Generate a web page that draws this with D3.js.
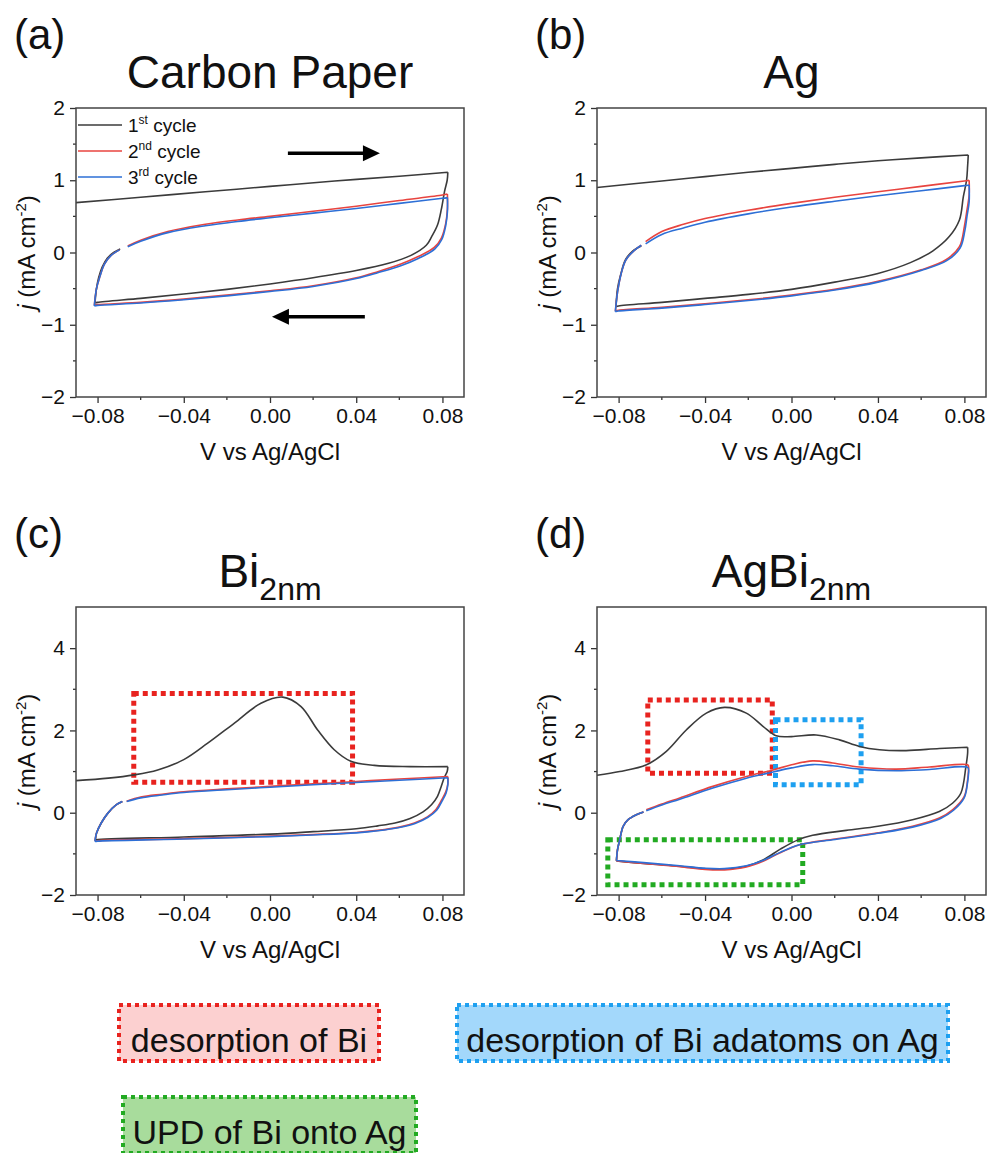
<!DOCTYPE html>
<html><head><meta charset="utf-8">
<script src="https://cdn.jsdelivr.net/npm/d3@7"></script>
<style>
body{margin:0;background:#fff}
svg text{font-family:"Liberation Sans",Arial,Helvetica,sans-serif;fill:#111}
</style>
</head><body><svg id="fig" width="987" height="1153"></svg>
<script>
// ---------------- DATA ----------------
const cycleLabels = [["1","st"," cycle"],["2","nd"," cycle"],["3","rd"," cycle"]];
const cycleColors = ["#3b3b3b","#e8443f","#2d6fd6"];
const xTickVals = [-0.08,-0.04,0.00,0.04,0.08];
const xMinorVals = [-0.06,-0.02,0.02,0.06];
const yTicksSmall = [-2,-1,0,1,2];
const yMinorSmall = [-1.5,-0.5,0.5,1.5];
const yTicksLarge = [-2,0,2,4];
const yMinorLarge = [-1,1,3];

// Panel (a) Carbon Paper  [V, j]
const cp1 = [[-0.09,0.69],[-0.06,0.765],[-0.03,0.84],[0,0.915],[0.03,0.99],[0.06,1.055],[0.0825,1.11],
 [0.0822,1.0],[0.081,0.85],[0.0795,0.6],[0.0777,0.38],[0.075,0.22],[0.0725,0.10],[0.0654,-0.04],[0.055,-0.15],[0.04,-0.25],[0.02,-0.35],[0,-0.435],[-0.02,-0.51],[-0.04,-0.574],[-0.06,-0.635],[-0.08,-0.69],[-0.0812,-0.70],
 [-0.0805,-0.5],[-0.0795,-0.35],[-0.0778,-0.2],[-0.0755,-0.08],[-0.0725,0.0],[-0.0695,0.05]];
const cp2 = [[-0.066,0.09],[-0.06,0.17],[-0.0474,0.29],[-0.03,0.39],[-0.015,0.45],[0,0.5],[0.02,0.57],[0.04,0.64],[0.06,0.72],[0.08,0.795],[0.0823,0.81],
 [0.0823,0.6],[0.0815,0.4],[0.0795,0.2],[0.0762,0.07],[0.0685,-0.06],[0.0607,-0.16],[0.05,-0.265],[0.04,-0.35],[0.02,-0.46],[0,-0.53],[-0.02,-0.59],[-0.04,-0.645],[-0.06,-0.69],[-0.08,-0.722],[-0.0815,-0.73],
 [-0.0805,-0.5],[-0.079,-0.34],[-0.0768,-0.16],[-0.0737,-0.04],[-0.0698,0.037]];
const cp3 = [[-0.066,0.08],[-0.06,0.155],[-0.0474,0.275],[-0.03,0.37],[-0.015,0.43],[0,0.48],[0.02,0.545],[0.04,0.61],[0.06,0.68],[0.08,0.75],[0.0823,0.76],
 [0.0823,0.56],[0.0815,0.37],[0.0797,0.18],[0.0765,0.05],[0.069,-0.08],[0.061,-0.18],[0.05,-0.28],[0.04,-0.36],[0.02,-0.47],[0,-0.54],[-0.02,-0.60],[-0.04,-0.655],[-0.06,-0.70],[-0.08,-0.732],[-0.0815,-0.74],
 [-0.0805,-0.5],[-0.079,-0.34],[-0.0768,-0.16],[-0.0737,-0.04],[-0.0698,0.037]];

// Panel (b) Ag
const ag1 = [[-0.09,0.90],[-0.06,0.99],[-0.04,1.05],[-0.02,1.11],[0,1.165],[0.02,1.22],[0.04,1.27],[0.06,1.31],[0.0818,1.35],
 [0.0815,1.2],[0.081,1.0],[0.0795,0.77],[0.0777,0.45],[0.073,0.22],[0.0653,0.02],[0.055,-0.14],[0.04,-0.29],[0.02,-0.41],[0,-0.51],[-0.02,-0.58],[-0.04,-0.635],[-0.06,-0.69],[-0.08,-0.74],[-0.0812,-0.75],
 [-0.0805,-0.5],[-0.079,-0.3],[-0.0768,-0.1],[-0.0735,0.02],[-0.0695,0.09]];
const ag2 = [[-0.0675,0.15],[-0.06,0.29],[-0.05,0.39],[-0.04,0.47],[-0.02,0.585],[0,0.68],[0.02,0.765],[0.04,0.84],[0.06,0.915],[0.08,0.99],[0.0822,1.0],
 [0.0822,0.8],[0.081,0.55],[0.08,0.36],[0.0777,0.08],[0.0715,-0.10],[0.06,-0.24],[0.04,-0.40],[0.02,-0.51],[0,-0.59],[-0.02,-0.655],[-0.04,-0.71],[-0.06,-0.76],[-0.08,-0.80],[-0.0815,-0.81],
 [-0.0805,-0.55],[-0.0788,-0.29],[-0.0766,-0.10],[-0.0727,0.03],[-0.0695,0.10]];
const ag3 = [[-0.0675,0.12],[-0.06,0.25],[-0.05,0.34],[-0.04,0.42],[-0.02,0.535],[0,0.63],[0.02,0.71],[0.04,0.785],[0.06,0.855],[0.08,0.925],[0.0822,0.935],
 [0.0822,0.7],[0.0812,0.5],[0.0802,0.3],[0.078,0.06],[0.072,-0.11],[0.06,-0.25],[0.04,-0.41],[0.02,-0.52],[0,-0.60],[-0.02,-0.665],[-0.04,-0.72],[-0.06,-0.77],[-0.08,-0.81],[-0.0815,-0.82],
 [-0.0805,-0.55],[-0.0788,-0.29],[-0.0766,-0.10],[-0.0727,0.03],[-0.0695,0.10]];

// Panel (c) Bi2nm
const bi1 = [[-0.09,0.78],[-0.075,0.84],[-0.063,0.92],[-0.0521,1.04],[-0.04,1.29],[-0.0289,1.69],[-0.0165,2.18],[-0.0042,2.66],[0.0059,2.81],[0.0144,2.58],[0.0221,2.01],[0.0298,1.53],[0.0375,1.25],[0.0484,1.15],[0.065,1.12],[0.0825,1.12],
 [0.0822,1.0],[0.0808,0.85],[0.0795,0.65],[0.0777,0.40],[0.075,0.2],[0.071,0.02],[0.065,-0.14],[0.058,-0.25],[0.05,-0.32],[0.04,-0.39],[0.02,-0.46],[0,-0.52],[-0.04,-0.59],[-0.0805,-0.66],[-0.081,-0.67],
 [-0.0805,-0.5],[-0.0783,-0.25],[-0.0752,-0.01],[-0.0714,0.19],[-0.0685,0.27]];
const bi2 = [[-0.0665,0.28],[-0.06,0.38],[-0.05,0.45],[-0.04,0.51],[-0.02,0.58],[0,0.64],[0.02,0.70],[0.04,0.76],[0.06,0.82],[0.0825,0.88],
 [0.0825,0.7],[0.0815,0.5],[0.0795,0.3],[0.077,0.08],[0.073,-0.1],[0.067,-0.25],[0.06,-0.35],[0.05,-0.43],[0.04,-0.48],[0.02,-0.53],[0,-0.57],[-0.04,-0.63],[-0.08,-0.68],[-0.0812,-0.69],
 [-0.0805,-0.5],[-0.0783,-0.25],[-0.0752,-0.01],[-0.0714,0.19],[-0.0685,0.27]];
const bi3 = [[-0.0665,0.27],[-0.06,0.36],[-0.05,0.43],[-0.04,0.49],[-0.02,0.56],[0,0.62],[0.02,0.68],[0.04,0.735],[0.06,0.79],[0.0825,0.85],
 [0.0825,0.68],[0.0817,0.48],[0.0798,0.28],[0.0773,0.06],[0.0733,-0.11],[0.0673,-0.26],[0.06,-0.36],[0.05,-0.44],[0.04,-0.49],[0.02,-0.54],[0,-0.58],[-0.04,-0.64],[-0.08,-0.69],[-0.0812,-0.70],
 [-0.0805,-0.5],[-0.0783,-0.25],[-0.0752,-0.01],[-0.0714,0.19],[-0.0685,0.27]];

// Panel (d) AgBi2nm
const agbi1 = [[-0.09,0.91],[-0.0795,1.0],[-0.0671,1.165],[-0.0579,1.49],[-0.0487,2.01],[-0.0394,2.42],[-0.031,2.56],[-0.0209,2.42],[-0.0132,2.10],[-0.0071,1.87],[0,1.85],[0.0114,1.89],[0.0222,1.77],[0.0314,1.61],[0.0407,1.53],[0.053,1.51],[0.0684,1.56],[0.0815,1.59],
 [0.0815,1.45],[0.0807,1.12],[0.0784,0.48],[0.0745,0.23],[0.0684,0.03],[0.056,-0.17],[0.04,-0.33],[0.0253,-0.43],[0.0098,-0.55],[0.003,-0.66],[-0.005,-0.88],[-0.0132,-1.15],[-0.0209,-1.30],[-0.031,-1.37],[-0.04,-1.36],[-0.0517,-1.30],[-0.0671,-1.24],[-0.081,-1.17],
 [-0.0805,-0.9],[-0.0795,-0.66],[-0.0779,-0.33],[-0.0756,-0.17],[-0.0718,-0.05],[-0.0685,0.02]];
const agbi2 = [[-0.0672,0.07],[-0.06,0.21],[-0.0517,0.36],[-0.0364,0.64],[-0.0209,0.88],[-0.0085,1.04],[0,1.165],[0.0098,1.26],[0.0191,1.21],[0.0314,1.11],[0.0484,1.06],[0.0638,1.11],[0.0815,1.165],
 [0.082,1.1],[0.0815,0.8],[0.0799,0.39],[0.0745,0.07],[0.0684,-0.13],[0.056,-0.33],[0.04,-0.49],[0.0202,-0.64],[0.0037,-0.78],[-0.0055,-0.98],[-0.0132,-1.18],[-0.0209,-1.32],[-0.031,-1.39],[-0.04,-1.38],[-0.0517,-1.31],[-0.0671,-1.24],[-0.081,-1.17],
 [-0.0805,-0.9],[-0.0795,-0.66],[-0.0779,-0.33],[-0.0756,-0.17],[-0.0718,-0.05],[-0.0685,0.02]];
const agbi3 = [[-0.0672,0.05],[-0.06,0.19],[-0.0517,0.33],[-0.0364,0.60],[-0.0209,0.84],[-0.0085,0.99],[0,1.09],[0.0098,1.17],[0.0191,1.14],[0.0314,1.06],[0.0484,1.02],[0.0638,1.05],[0.0815,1.10],
 [0.082,1.0],[0.0815,0.75],[0.0799,0.36],[0.075,0.06],[0.069,-0.14],[0.056,-0.35],[0.04,-0.50],[0.0202,-0.65],[0.0037,-0.78],[-0.0055,-0.97],[-0.0132,-1.16],[-0.0209,-1.29],[-0.031,-1.36],[-0.04,-1.35],[-0.0517,-1.29],[-0.0671,-1.22],[-0.081,-1.16],
 [-0.0805,-0.9],[-0.0795,-0.66],[-0.0779,-0.33],[-0.0756,-0.17],[-0.0718,-0.05],[-0.0685,0.02]];

// annotation regions [v0, v1, j0, j1]
const boxesC = [{c:"#e8231f", r:[-0.0632,0.0383,0.74,2.9]}];
const boxesD = [{c:"#e8231f", r:[-0.0665,-0.0089,0.96,2.74]},{c:"#1ea0f0", r:[-0.0074,0.0322,0.68,2.26]},{c:"#22aa22", r:[-0.085,0.0052,-1.75,-0.66]}];
const arrowsA = [[0.0083,0.051,1.375],[0.044,0.0009,-0.89]];

// key boxes
const keyItems = [
 {t:"desorption of Bi", fill:"#fcd0d0", stroke:"#e8231f"},
 {t:"desorption of Bi adatoms on Ag", fill:"#a3d8fb", stroke:"#1ea0f0"},
 {t:"UPD of Bi onto Ag", fill:"#a8dc9c", stroke:"#22aa22"}
];

// ---------------- DRAW ----------------
const svg = d3.select("#fig");
const FONT = '"Liberation Sans",Arial,Helvetica,sans-serif';

const panels = [
 {tag:"(a)", title:["Carbon Paper"], L:76, R:464, T:108, B:397, y:[-2,2], yt:yTicksSmall, ym:yMinorSmall, series:[cp1,cp2,cp3], legend:true, arrows:arrowsA, boxes:[]},
 {tag:"(b)", title:["Ag"], L:597, R:986, T:108, B:397, y:[-2,2], yt:yTicksSmall, ym:yMinorSmall, series:[ag1,ag2,ag3], boxes:[]},
 {tag:"(c)", title:["Bi","2nm"], L:76, R:464, T:607, B:895, y:[-2,5], yt:yTicksLarge, ym:yMinorLarge, series:[bi1,bi2,bi3], boxes:boxesC},
 {tag:"(d)", title:["AgBi","2nm"], L:597, R:986, T:607, B:895, y:[-2,5], yt:yTicksLarge, ym:yMinorLarge, series:[agbi1,agbi2,agbi3], boxes:boxesD}
];

// split a CV loop at its potential vertices so corners stay sharp
function splitLoop(s){
  let iMax = 0;
  s.forEach((d,i)=>{ if(d[0] > s[iMax][0]) iMax = i; });
  let iMin = iMax;
  for(let i=iMax;i<s.length;i++){ if(s[i][0] < s[iMin][0]) iMin = i; }
  return [s.slice(0,iMax+1), s.slice(iMax,iMin+1), s.slice(iMin)].filter(a=>a.length>1);
}

panels.forEach((p,i)=>{
  const x = d3.scaleLinear().domain([-0.09,0.09]).range([p.L,p.R]);
  const y = d3.scaleLinear().domain(p.y).range([p.B,p.T]);
  const g = svg.append("g");
  const cx = (p.L+p.R)/2;

  g.append("text").attr("x", p.L-62).attr("y", p.T-59).attr("font-size",42).text(p.tag);
  const tt = g.append("text").attr("x",cx).attr("y",p.T-20).attr("text-anchor","middle").attr("font-size",46);
  tt.append("tspan").text(p.title[0]);
  if(p.title[1]) tt.append("tspan").attr("dy",13).attr("font-size",32).text(p.title[1]);

  const cid = "clip"+i;
  svg.append("clipPath").attr("id",cid).append("rect").attr("x",p.L).attr("y",p.T).attr("width",p.R-p.L).attr("height",p.B-p.T);

  p.boxes.forEach(b=>{
    g.append("rect").attr("x",x(b.r[0])).attr("y",y(b.r[3])).attr("width",x(b.r[1])-x(b.r[0])).attr("height",y(b.r[2])-y(b.r[3]))
     .attr("fill","none").attr("stroke",b.c).attr("stroke-width",5).attr("stroke-dasharray","5,4");
  });

  const line = d3.line().x(d=>x(d[0])).y(d=>y(d[1])).curve(d3.curveCatmullRom.alpha(0.5));
  const cg = g.append("g").attr("clip-path",`url(#${cid})`);
  p.series.forEach((s,k)=>{
    const dstr = splitLoop(s).map(seg=>line(seg)).join("");
    cg.append("path").attr("d",dstr).attr("fill","none").attr("stroke",cycleColors[k]).attr("stroke-width",1.6).attr("stroke-linejoin","round");
  });

  const xAxis = d3.axisBottom(x).tickValues(xTickVals).tickFormat(d3.format(".2f")).tickSize(6).tickPadding(5);
  const xa = g.append("g").attr("transform",`translate(0,${p.B})`).call(xAxis);
  const yAxis = d3.axisLeft(y).tickValues(p.yt).tickFormat(d3.format("d")).tickSize(6).tickPadding(5);
  const ya = g.append("g").attr("transform",`translate(${p.L},0)`).call(yAxis);
  [xa,ya].forEach(a=>{
    a.select(".domain").remove();
    a.selectAll("line").attr("stroke","#333").attr("stroke-width",1.3);
    a.selectAll("text").attr("font-size",21).attr("font-family",FONT).attr("fill","#111");
  });
  g.append("g").selectAll("line").data(xMinorVals).join("line")
    .attr("x1",d=>x(d)).attr("x2",d=>x(d)).attr("y1",p.B).attr("y2",p.B+3).attr("stroke","#333").attr("stroke-width",1.3);
  g.append("g").selectAll("line").data(p.ym).join("line")
    .attr("x1",p.L-3).attr("x2",p.L).attr("y1",d=>y(d)).attr("y2",d=>y(d)).attr("stroke","#333").attr("stroke-width",1.3);
  g.append("rect").attr("x",p.L).attr("y",p.T).attr("width",p.R-p.L).attr("height",p.B-p.T)
    .attr("fill","none").attr("stroke","#444").attr("stroke-width",1.5);

  g.append("text").attr("x",cx).attr("y",p.B+63).attr("text-anchor","middle").attr("font-size",24).text("V vs Ag/AgCl");
  const yl = g.append("text").attr("transform",`translate(${p.L-41},${(p.T+p.B)/2}) rotate(-90)`).attr("text-anchor","middle").attr("font-size",24);
  yl.append("tspan").attr("font-style","italic").text("j");
  yl.append("tspan").text(" (mA cm");
  yl.append("tspan").attr("dy",-9).attr("font-size",15).text("-2");
  yl.append("tspan").attr("dy",9).text(")");

  if(p.legend){
    cycleLabels.forEach((lab,k)=>{
      const ly = p.T + 17 + k*26;
      g.append("line").attr("x1",p.L+2).attr("x2",p.L+46).attr("y1",ly).attr("y2",ly).attr("stroke",cycleColors[k]).attr("stroke-width",1.6);
      const t = g.append("text").attr("x",p.L+52).attr("y",ly+7).attr("font-size",19);
      t.append("tspan").text(lab[0]);
      t.append("tspan").attr("dy",-8).attr("font-size",12).text(lab[1]);
      t.append("tspan").attr("dy",8).text(lab[2]);
    });
  }
  if(p.arrows){
    p.arrows.forEach(a=>{
      const x0=x(a[0]), x1=x(a[1]), yy=y(a[2]);
      const dir = Math.sign(x1-x0), hl=17, hw=8;
      g.append("line").attr("x1",x0).attr("x2",x1-dir*hl+dir*1).attr("y1",yy).attr("y2",yy).attr("stroke","#000").attr("stroke-width",3.5);
      g.append("path").attr("d",`M${x1},${yy}L${x1-dir*hl},${yy-hw}L${x1-dir*hl},${yy+hw}Z`).attr("fill","#000");
    });
  }
});

const keyPos = [[119,1005,260,56],[457,1005,491,56],[123,1097,293,56]];
keyItems.forEach((k,i)=>{
  const [bx,by,bw,bh] = keyPos[i];
  svg.append("rect").attr("x",bx).attr("y",by).attr("width",bw).attr("height",bh).attr("fill",k.fill)
    .attr("stroke",k.stroke).attr("stroke-width",4).attr("stroke-dasharray","4,4");
  svg.append("text").attr("x",bx+bw/2).attr("y",by+bh-9).attr("text-anchor","middle").attr("font-size",34).text(k.t);
});
</script></body></html>
